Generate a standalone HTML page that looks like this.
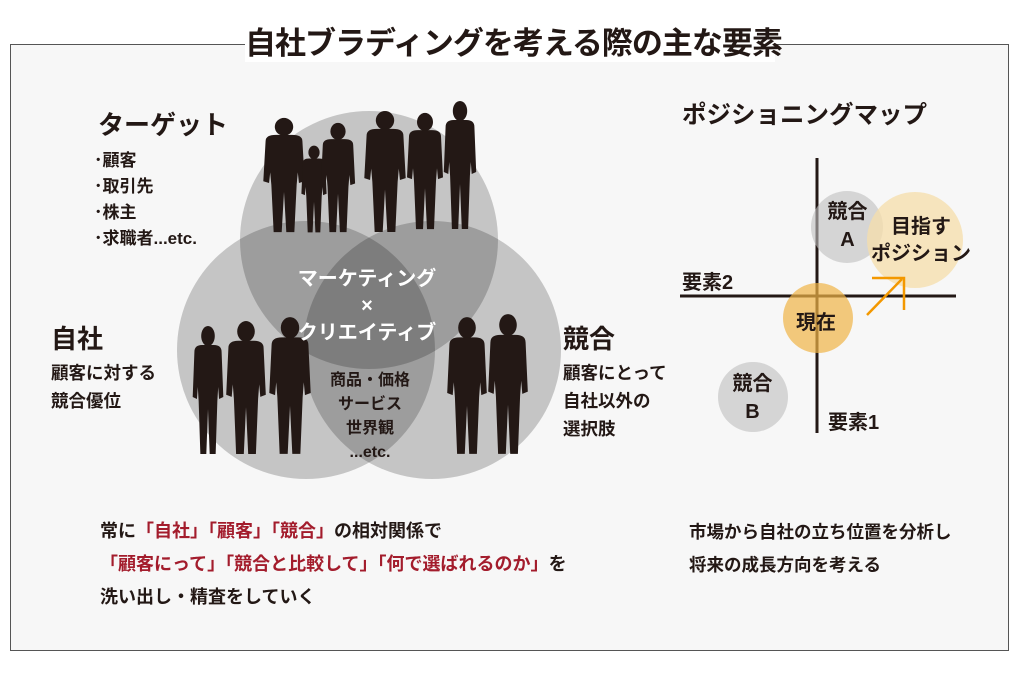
<!DOCTYPE html>
<html><head><meta charset="utf-8">
<style>
body{margin:0;width:1024px;height:674px;background:#fff;position:relative;overflow:hidden;font-family:"Liberation Sans","Noto Sans CJK JP",sans-serif;font-weight:bold;color:#231815}
.box{position:absolute;left:10px;top:44px;width:997px;height:605px;border:1px solid #555;background:#f7f7f7}
.t{position:absolute;white-space:nowrap}
.title{left:245px;top:26px;width:530px;text-align:center;background:#fff;font-size:31px;line-height:36px;letter-spacing:-1px}
svg{position:absolute;left:0;top:0}
.red{color:#a31c2c}
</style></head><body>
<div class="box"></div>
<div class="t title">自社ブラディングを考える際の主な要素</div>
<svg width="1024" height="674">
<defs>
<symbol id="p" viewBox="0 0 40 130" preserveAspectRatio="none">
<ellipse cx="20" cy="11" rx="8" ry="10" fill="#231815"/>
<path d="M4 27 Q4 20 13 20 L27 20 Q36 20 36 27 L38 72 L33 74 L32 62 L31 76 L29 129 L22 129 L20 84 L18 129 L11 129 L9 76 L8 62 L7 74 L2 72 Z" fill="#231815"/>
</symbol>
</defs>
<circle cx="369" cy="240" r="129" fill="rgba(0,0,0,0.2)"/>
<circle cx="306" cy="350" r="129" fill="rgba(0,0,0,0.2)"/>
<circle cx="432" cy="350" r="129" fill="rgba(0,0,0,0.2)"/>
<use href="#p" x="261" y="117" width="46" height="116"/>
<use href="#p" x="300" y="145" width="28" height="88"/>
<use href="#p" x="319" y="122" width="38" height="111"/>
<use href="#p" x="362" y="110" width="46" height="123"/>
<use href="#p" x="405" y="112" width="40" height="118"/>
<use href="#p" x="442" y="100" width="36" height="130"/>
<use href="#p" x="191" y="325" width="34" height="130"/>
<use href="#p" x="224" y="320" width="44" height="135"/>
<use href="#p" x="267" y="316" width="46" height="139"/>
<use href="#p" x="445" y="316" width="44" height="139"/>
<use href="#p" x="486" y="313" width="44" height="142"/>
<line x1="817" y1="158" x2="817" y2="433" stroke="#231815" stroke-width="3"/>
<line x1="680" y1="296" x2="956" y2="296" stroke="#231815" stroke-width="3"/>
<circle cx="847" cy="227" r="36" fill="rgba(190,190,190,0.6)"/>
<circle cx="915" cy="240" r="48" fill="rgba(245,222,170,0.75)"/>
<circle cx="818" cy="318" r="35" fill="rgba(240,180,70,0.7)"/>
<circle cx="753" cy="397" r="35" fill="rgba(190,190,190,0.6)"/>
<line x1="867" y1="315" x2="902" y2="279" stroke="#f39800" stroke-width="2.5"/>
<polyline points="872,278 904,278 904,310" fill="none" stroke="#f39800" stroke-width="2.5"/>
</svg>
<div class="t" style="left:98px;top:105px;font-size:26px">ターゲット</div>
<div class="t" style="left:94px;top:148px;font-size:17px;line-height:26px">･顧客<br>･取引先<br>･株主<br>･求職者...etc.</div>
<div class="t" style="left:51px;top:319px;font-size:26px">自社</div>
<div class="t" style="left:51px;top:359px;font-size:17.5px;line-height:28px">顧客に対する<br>競合優位</div>
<div class="t" style="left:563px;top:319px;font-size:26px">競合</div>
<div class="t" style="left:563px;top:359px;font-size:17.5px;line-height:28px">顧客にとって<br>自社以外の<br>選択肢</div>
<div class="t" style="left:267px;top:266px;width:200px;text-align:center;font-size:20px;line-height:27px;color:#fff">マーケティング<br>×<br>クリエイティブ</div>
<div class="t" style="left:295px;top:369px;width:150px;text-align:center;font-size:16px;line-height:24px;color:#231815">商品・価格<br>サービス<br>世界観<br>...etc.</div>
<div class="t" style="left:682px;top:96px;font-size:24.5px">ポジショニングマップ</div>
<div class="t" style="left:820px;top:198px;width:55px;text-align:center;font-size:20px;line-height:28px">競合<br>A</div>
<div class="t" style="left:862px;top:214px;width:118px;text-align:center;font-size:20px;line-height:27px">目指す<br>ポジション</div>
<div class="t" style="left:682px;top:266px;font-size:20px">要素2</div>
<div class="t" style="left:796px;top:306px;font-size:20px">現在</div>
<div class="t" style="left:725px;top:370px;width:55px;text-align:center;font-size:20px;line-height:28px">競合<br>B</div>
<div class="t" style="left:828px;top:406px;font-size:20px">要素1</div>
<div class="t" style="left:100px;top:515px;font-size:18px;line-height:33px">常に<span class="red">「自社」「顧客」「競合」</span>の相対関係で<br><span class="red">「顧客にって」「競合と比較して」「何で選ばれるのか」</span>を<br>洗い出し・精査をしていく</div>
<div class="t" style="left:689px;top:516px;font-size:17.5px;line-height:33px">市場から自社の立ち位置を分析し<br>将来の成長方向を考える</div>
</body></html>
